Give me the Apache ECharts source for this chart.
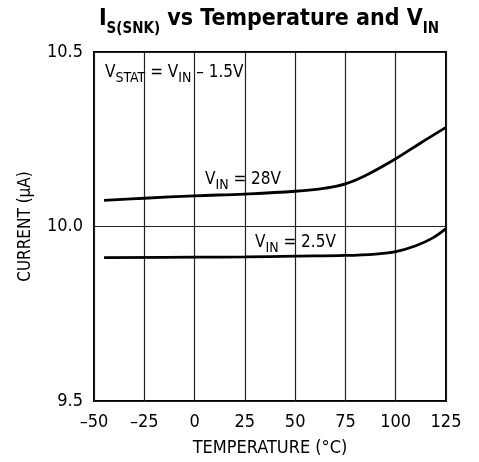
<!DOCTYPE html>
<html><head><meta charset="utf-8">
<script src="https://cdn.jsdelivr.net/npm/echarts@6/dist/echarts.min.js"></script>
<style>html,body{margin:0;padding:0;background:#fff}#c{width:479px;height:462px}</style>
</head><body><div id="c"></div>
<script>
const FONT = '"DejaVu Sans Condensed","Liberation Sans Narrow","Liberation Sans",sans-serif';
const temps28 = [-45, -25, 0, 25, 50, 65, 75, 85, 100, 112, 125];
const vin28 = [10.075, 10.081, 10.088, 10.093, 10.101, 10.110, 10.122, 10.146, 10.194, 10.238, 10.284];
const temps25 = [-45, 0, 25, 50, 75, 90, 100, 110, 118, 125];
const vin25 = [9.911, 9.912, 9.913, 9.915, 9.917, 9.921, 9.928, 9.945, 9.966, 9.994];
const xTicks = [-50, -25, 0, 25, 50, 75, 100, 125];
const yTicks = [9.5, 10.0, 10.5];

const chart = echarts.init(document.getElementById('c'));
const sub = {fontSize: 14, fontFamily: FONT, verticalAlign: 'bottom', padding: [0,0,-4,0], fill: '#000'};
const nrm = {fontSize: 17, fontFamily: FONT, fill: '#000'};
chart.setOption({
  animation: false,
  backgroundColor: '#fff',
  grid: {left: 94, right: 33, top: 52, bottom: 59, show: true, borderColor: '#000', borderWidth: 2, backgroundColor: 'transparent'},
  xAxis: {
    type: 'value', min: -50, max: 125, interval: 25,
    axisLine: {show: false}, axisTick: {show: false},
    axisLabel: {fontFamily: FONT, fontSize: 18, color: '#000', margin: 12,
      formatter: v => xTicks.includes(v) ? String(v).replace('-', '\u2013') : ''},
    splitLine: {show: true, lineStyle: {color: '#222', width: 1.2}},
    name: 'TEMPERATURE (\u00B0C)', nameLocation: 'middle', nameGap: 38,
    nameTextStyle: {fontFamily: FONT, fontSize: 18, color: '#000'}
  },
  yAxis: {
    type: 'value', min: 9.5, max: 10.5, interval: 0.5,
    axisLine: {show: false}, axisTick: {show: false},
    axisLabel: {fontFamily: FONT, fontSize: 18, color: '#000', margin: 11,
      formatter: v => yTicks.includes(v) ? v.toFixed(1) : ''},
    splitLine: {show: true, lineStyle: {color: '#222', width: 1.2}},
    name: 'CURRENT (\u03BCA)', nameLocation: 'middle', nameGap: 60,
    nameTextStyle: {fontFamily: FONT, fontSize: 17, color: '#000'}
  },
  series: [
    {type: 'line', data: temps28.map((t,i)=>[t, vin28[i]]), smooth: 0.4, symbol: 'none',
     lineStyle: {color: '#000', width: 2.8}},
    {type: 'line', data: temps25.map((t,i)=>[t, vin25[i]]), smooth: 0.4, symbol: 'none',
     lineStyle: {color: '#000', width: 2.8}}
  ],
  graphic: [
    {type: 'text', x: 269, y: 8, style: {
      text: '{b|I}{s|S(SNK)}{b| vs Temperature and V}{s|IN}', align: 'center',
      rich: {
        b: {fontSize: 23, fontWeight: 'bold', fontFamily: FONT, fill: '#000'},
        s: {fontSize: 15, fontWeight: 'bold', fontFamily: FONT, fill: '#000', verticalAlign: 'bottom', padding: [0,0,-6,0]}
      }}},
    {type: 'text', left: 105, top: 64, style: {
      text: '{n|V}{s|STAT}{n| = V}{s|IN}{n| \u2013 1.5V}', rich: {n: nrm, s: sub}}},
    {type: 'text', left: 205, top: 171, style: {
      text: '{n|V}{s|IN}{n| = 28V}', rich: {n: nrm, s: sub}}},
    {type: 'text', left: 255, top: 234, style: {
      text: '{n|V}{s|IN}{n| = 2.5V}', rich: {n: nrm, s: sub}}}
  ]
});
</script></body></html>
